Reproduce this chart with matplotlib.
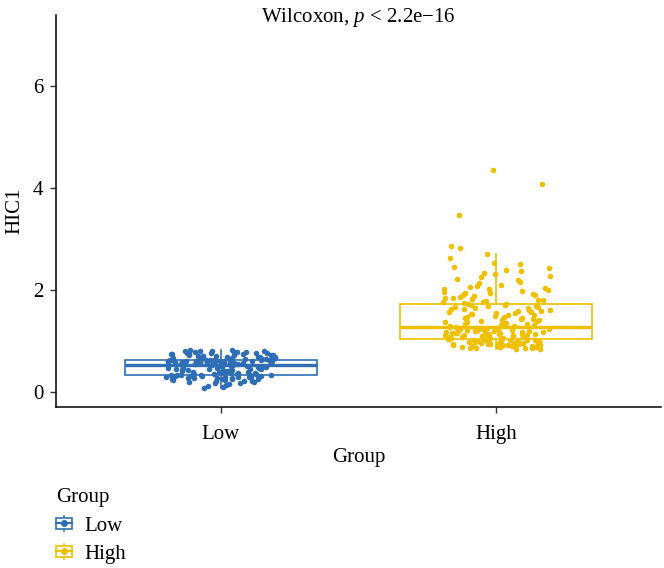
import matplotlib
matplotlib.use("Agg")
import matplotlib.pyplot as plt
import numpy as np
from matplotlib.legend_handler import HandlerBase
from matplotlib.patches import Rectangle
from matplotlib.lines import Line2D

plt.rcParams['font.family'] = ['Liberation Serif', 'DejaVu Serif']
plt.rcParams['mathtext.fontset'] = 'custom'
plt.rcParams['mathtext.rm'] = 'Liberation Serif'
plt.rcParams['mathtext.it'] = 'Liberation Serif:italic'

# =============================================================================
    # Data
# =============================================================================
groups = ["Low", "High"]
colors = ["#2F6EB5", "#EFC000"]

low_vals = [0.07, 0.10, 0.12, 0.14, 0.15, 0.17, 0.18, 0.19, 0.20, 0.21, 0.22, 0.22,
            0.23, 0.24, 0.25, 0.25, 0.26, 0.26, 0.27, 0.27, 0.28, 0.28, 0.29, 0.29,
            0.30, 0.30, 0.30, 0.31, 0.31, 0.31, 0.32, 0.32, 0.32, 0.33, 0.33, 0.33, 0.33,
            0.34, 0.34, 0.35, 0.35, 0.36, 0.36, 0.37, 0.37, 0.38, 0.38, 0.39, 0.39,
            0.40, 0.40, 0.41, 0.41, 0.42, 0.42, 0.43, 0.43, 0.44, 0.44, 0.45, 0.45,
            0.46, 0.46, 0.47, 0.47, 0.48, 0.48, 0.49, 0.49, 0.50, 0.50, 0.51, 0.51, 0.52, 0.52,
            0.52, 0.53, 0.53, 0.54, 0.54, 0.55, 0.55, 0.55, 0.56, 0.56, 0.56, 0.57, 0.57,
            0.57, 0.58, 0.58, 0.58, 0.59, 0.59, 0.59, 0.60, 0.60, 0.60, 0.60, 0.61, 0.61,
            0.61, 0.61, 0.62, 0.62, 0.62, 0.62, 0.63, 0.63, 0.63, 0.63, 0.63,
            0.64, 0.64, 0.65, 0.65, 0.66, 0.66, 0.67, 0.67, 0.68, 0.68, 0.69, 0.69,
            0.70, 0.70, 0.71, 0.71, 0.72, 0.72, 0.73, 0.73, 0.74, 0.74, 0.75, 0.75,
            0.76, 0.76, 0.77, 0.77, 0.78, 0.78, 0.79, 0.79, 0.80, 0.80, 0.81, 0.81, 0.82, 0.82]

high_vals = [0.85, 0.85, 0.86, 0.86, 0.87, 0.87, 0.88, 0.88, 0.89, 0.89, 0.90, 0.90,
             0.91, 0.91, 0.92, 0.92, 0.92, 0.93, 0.93, 0.94, 0.94, 0.95, 0.95, 0.95,
             0.96, 0.96, 0.97, 0.97, 0.97, 0.98, 0.98, 0.99, 0.99, 0.99, 1.00, 1.00,
             1.00, 1.01, 1.01, 1.01, 1.02, 1.02, 1.02, 1.03, 1.03,
             1.04, 1.04, 1.05, 1.05, 1.06, 1.06, 1.07, 1.07, 1.08, 1.08, 1.09, 1.09,
             1.10, 1.10, 1.11, 1.11, 1.12, 1.12, 1.13, 1.13, 1.14, 1.14, 1.15, 1.15,
             1.16, 1.16, 1.17, 1.17, 1.18, 1.18, 1.19, 1.19, 1.20, 1.20, 1.21, 1.21,
             1.22, 1.22, 1.23, 1.23, 1.24, 1.24, 1.25, 1.25, 1.26, 1.27,
             1.28, 1.29, 1.30, 1.31, 1.32, 1.33, 1.34, 1.35, 1.36, 1.37, 1.38, 1.39,
             1.40, 1.41, 1.42, 1.43, 1.44, 1.45, 1.46, 1.47, 1.48, 1.49, 1.50, 1.51,
             1.52, 1.53, 1.54, 1.55, 1.56, 1.57, 1.58, 1.59, 1.60, 1.61, 1.62, 1.63,
             1.64, 1.65, 1.66, 1.67, 1.68, 1.69, 1.70, 1.71, 1.72, 1.73,
             1.74, 1.76, 1.78, 1.80, 1.82, 1.84, 1.86, 1.88, 1.90, 1.92, 1.94, 1.96,
             1.98, 2.00, 2.02, 2.04, 2.06, 2.08, 2.10, 2.13, 2.16, 2.19, 2.22, 2.25,
             2.28, 2.31, 2.34, 2.37, 2.40, 2.43, 2.46, 2.50, 2.53, 2.63, 2.70,
             1.77, 1.81, 1.85, 1.91, 1.95, 2.01,
             2.82, 2.86, 3.47, 4.08, 4.35]

values = [low_vals, high_vals]


def hash01(i):
    # integer hash -> [0, 1), used only to spread the jittered points sideways
    x = (i * 0x9E3779B1) & 0xFFFFFFFF
    x ^= x >> 16
    x = (x * 0x85EBCA6B) & 0xFFFFFFFF
    x ^= x >> 13
    x = (x * 0xC2B2AE35) & 0xFFFFFFFF
    x ^= x >> 16
    return x / 2**32


# =============================================================================
    # Plot
# =============================================================================
fig = plt.figure(figsize=(6.64, 5.68), dpi=100)
ax = fig.add_axes([0.0843, 0.2843, 0.9112, 0.6893])

fs = 15
positions = [1, 2]
for pos, vals, col in zip(positions, values, colors):
    ax.boxplot(vals, positions=[pos], widths=0.7, showfliers=False, patch_artist=True,
               boxprops=dict(facecolor="white", edgecolor=col, linewidth=1.2),
               medianprops=dict(color=col, linewidth=2.4),
               whiskerprops=dict(color=col, linewidth=1.2),
               capprops=dict(linewidth=0), zorder=2)
    offs = np.array([(hash01(i + 1000 * pos) - 0.5) * 0.4 for i in range(len(vals))])
    ax.scatter(pos + offs, vals, s=16, color=col, linewidths=0, zorder=3)

ax.set_xlim(0.4, 2.6)
ax.set_ylim(-0.284, 7.39)
ax.set_xticks(positions)
ax.set_xticklabels(groups)
ax.set_yticks([0, 2, 4, 6])
ax.tick_params(labelsize=fs, length=4, width=1, color="#333333")
ax.tick_params(axis="x", pad=9.5)
ax.tick_params(axis="y", pad=5)
ax.spines[["top", "right"]].set_visible(False)
ax.spines[["left", "bottom"]].set_linewidth(1.1)
ax.set_xlabel("Group", fontsize=fs, labelpad=3)
ax.set_ylabel("HIC1", fontsize=fs, labelpad=6)

ax.text(1.5, 7.25, "Wilcoxon, $p$ < 2.2e\u221216", fontsize=fs, ha="center", va="baseline")


class BoxKey(HandlerBase):
    def create_artists(self, legend, orig_handle, xdescent, ydescent, width, height, fontsize, trans):
        col = orig_handle.get_color()
        cx = width / 2 - xdescent
        cy = height / 2 - ydescent
        bw = width
        bh = height * 0.72
        box = Rectangle((cx - bw / 2, cy - bh / 2), bw, bh, facecolor="white",
                        edgecolor=col, lw=1.2, transform=trans)
        med = Line2D([cx - bw / 2, cx + bw / 2], [cy, cy], color=col, lw=1.5, transform=trans)
        wh = Line2D([cx, cx], [cy - height * 0.5, cy + height * 0.5], color=col, lw=1.2, transform=trans)
        dot = Line2D([cx], [cy], marker="o", ms=4, color=col, lw=0, transform=trans)
        return [wh, box, med, dot]


handles = [Line2D([], [], color=c) for c in colors]
leg = fig.legend(handles, groups, title="Group", loc="upper left",
                 bbox_to_anchor=(0.0843, 0.140), frameon=False, fontsize=fs, title_fontsize=fs,
                 handler_map={Line2D: BoxKey()}, handlelength=0.77, handleheight=0.72,
                 handletextpad=0.6, labelspacing=0.4, borderpad=0, borderaxespad=0,
                 alignment="left")

fig.savefig("out.png", dpi=100)
